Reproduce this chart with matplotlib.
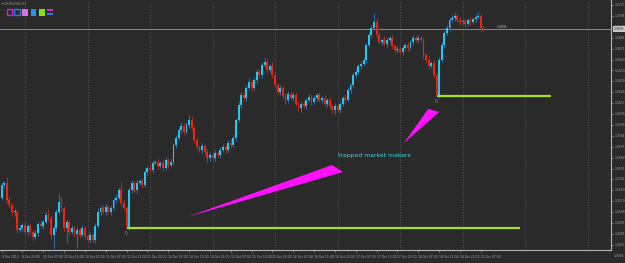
import numpy as np
import matplotlib
matplotlib.use("Agg")
import matplotlib.pyplot as plt
from matplotlib.patches import Polygon, Rectangle
import matplotlib.transforms as mtransforms

# ---------------- data (prices in pips: price = pips / 10000) ----------------
first_open_pips = 13522
close_pips = [
    13535, 13537, 13520, 13515, 13508, 13508, 13490, 13492, 13495, 13488,
    13494, 13488, 13483, 13487, 13496, 13494, 13498, 13505, 13502, 13485,
    13492, 13508, 13518, 13512, 13492, 13498, 13488, 13492, 13486, 13490,
    13485, 13492, 13484, 13480, 13485, 13480, 13494, 13508, 13512, 13508,
    13513, 13508, 13512, 13520, 13522, 13530, 13517, 13512, 13493, 13530,
    13537, 13530, 13537, 13539, 13535, 13548, 13552, 13550, 13557, 13558,
    13554, 13557, 13552, 13560, 13555, 13558, 13575, 13582, 13590, 13594,
    13588, 13595, 13600, 13592, 13580, 13573, 13570, 13574, 13568, 13562,
    13565, 13562, 13567, 13565, 13570, 13573, 13570, 13577, 13575, 13582,
    13600, 13615, 13625, 13622, 13632, 13638, 13632, 13640, 13648, 13645,
    13655, 13658, 13650, 13654, 13645, 13635, 13628, 13632, 13624, 13620,
    13626, 13622, 13625, 13616, 13612, 13616, 13614, 13620, 13623, 13618,
    13622, 13625, 13620, 13622, 13616, 13620, 13614, 13610, 13614, 13610,
    13616, 13622, 13620, 13630, 13635, 13645, 13648, 13654, 13656, 13660,
    13675, 13685, 13692, 13698, 13685, 13678, 13680, 13676, 13680, 13682,
    13674, 13670, 13671, 13668, 13672, 13675, 13672, 13678, 13682, 13680,
    13682, 13680, 13665, 13660, 13654, 13657, 13645, 13625, 13660, 13675,
    13687, 13692, 13700, 13702, 13704, 13700, 13698, 13699, 13696, 13700,
    13698, 13701, 13703, 13704, 13692, 13691,
]
upper_wick_pips = [
    3, 2, 6, 3, 2, 3, 2, 3, 2, 3,
    2, 3, 2, 3, 2, 4, 2, 3, 6, 2,
    3, 3, 9, 5, 2, 3, 2, 3, 2, 3,
    2, 3, 2, 2, 3, 2, 3, 4, 2, 3,
    3, 2, 3, 3, 4, 3, 8, 3, 2, 3,
    3, 2, 4, 2, 3, 3, 2, 4, 3, 2,
    3, 2, 3, 3, 2, 3, 2, 3, 3, 4,
    3, 3, 5, 3, 2, 3, 2, 3, 2, 3,
    3, 2, 3, 2, 3, 3, 2, 3, 4, 3,
    2, 3, 3, 2, 3, 4, 2, 3, 3, 2,
    3, 4, 3, 2, 4, 3, 2, 3, 2, 3,
    3, 2, 3, 2, 3, 2, 3, 2, 3, 2,
    3, 2, 3, 2, 3, 2, 3, 2, 3, 2,
    3, 2, 3, 3, 2, 3, 3, 2, 3, 3,
    2, 3, 3, 9, 4, 3, 2, 4, 3, 2,
    3, 2, 3, 2, 3, 2, 3, 2, 3, 2,
    3, 2, 3, 2, 3, 2, 3, 2, 3, 3,
    2, 3, 3, 3, 3, 2, 3, 2, 3, 2,
    3, 2, 3, 4, 2, 2,
]
lower_wick_pips = [
    2, 3, 3, 2, 3, 4, 3, 2, 3, 2,
    3, 2, 3, 2, 3, 2, 3, 2, 3, 4,
    13, 3, 2, 3, 3, 15, 3, 2, 3, 14,
    3, 2, 3, 2, 3, 2, 3, 2, 3, 2,
    3, 2, 3, 2, 3, 2, 3, 2, 1, 3,
    3, 2, 3, 2, 3, 2, 3, 2, 3, 2,
    3, 2, 3, 2, 3, 2, 3, 3, 2, 3,
    3, 2, 3, 2, 3, 3, 2, 3, 2, 4,
    3, 2, 3, 2, 3, 2, 3, 2, 3, 2,
    3, 2, 3, 2, 3, 2, 3, 2, 3, 2,
    3, 2, 3, 2, 3, 3, 2, 3, 2, 4,
    3, 2, 3, 2, 3, 4, 2, 3, 2, 3,
    2, 3, 2, 3, 2, 3, 2, 3, 4, 2,
    3, 2, 3, 2, 3, 2, 3, 2, 3, 2,
    3, 2, 3, 2, 3, 2, 3, 2, 3, 2,
    3, 2, 3, 2, 3, 2, 3, 2, 3, 2,
    3, 2, 3, 2, 3, 2, 3, 1, 3, 2,
    3, 2, 3, 2, 3, 2, 3, 2, 3, 2,
    3, 2, 3, 2, 3, 2,
]

date_label_bars = list(range(0, 185, 8))
date_labels = [
    "9 Oct 2013", "9 Oct 23:00", "10 Oct 07:00", "10 Oct 15:00", "10 Oct 23:00",
    "11 Oct 07:00", "11 Oct 15:00", "11 Oct 23:00", "14 Oct 07:00", "14 Oct 15:00",
    "14 Oct 23:00", "15 Oct 07:00", "15 Oct 15:00", "15 Oct 23:00", "16 Oct 07:00",
    "16 Oct 15:00", "16 Oct 23:00", "17 Oct 07:00", "17 Oct 15:00", "17 Oct 23:00",
    "18 Oct 07:00", "18 Oct 15:00", "18 Oct 23:00", "21 Oct 07:00",
]
day_start_bars = [9, 33, 57, 81, 105, 129, 153, 177, 201, 225]

price_ticks = [1.3715, 1.3704, 1.3693, 1.3682, 1.3671, 1.3660, 1.3650,
               1.3639, 1.3628, 1.3617, 1.3606, 1.3595, 1.3584, 1.3573,
               1.3562, 1.3551, 1.3541, 1.3530, 1.3519, 1.3508, 1.3497,
               1.3486, 1.3475]
last_price_tick = 1.3464

# support lines: anchored at the low of a bar, extended to a later bar
line_anchor_bars = [48, 167]
line_end_bars = [199, 211]

# magenta arrow-triangles (bar, price)
tri1_bars = [71.2, 126.9, 131.1]
tri1_prices = [1.3503, 1.3555, 1.3548]
tri2_bars = [154.5, 163.8, 168.0]
tri2_prices = [1.3577, 1.3611, 1.3608]

note_text = "trapped market makers"
note_bar, note_price = 129.2, 1.3564

# ---------------- derived OHLC ----------------
closes = np.array(close_pips) / 10000.0
opens = np.r_[first_open_pips, close_pips[:-1]] / 10000.0
highs = np.maximum(opens, closes) + np.array(upper_wick_pips) / 10000.0
lows = np.minimum(opens, closes) - np.array(lower_wick_pips) / 10000.0
x = np.arange(len(closes))
bull = closes >= opens

axis_col = "#a8a8a8"
FS_AX = 2.2

# ---------------- figure ----------------
W, H = 625, 263
bg = "#2a2a2a"
fig = plt.figure(figsize=(W / 100, H / 100), dpi=100)
fig.patch.set_facecolor(bg)
ax = fig.add_axes([0, (H - 250) / H, 611 / W, 250 / H])
ax.set_facecolor(bg)

ax.set_xlim(-0.6, 234.0)
ax.set_ylim(1.3470, 1.3720)

for b in day_start_bars:
    ax.axvline(b, color="#606060", lw=0.6, ls=(0, (1, 2)), zorder=0)

# current price line
ax.axhline(closes[-1], color="#8c8c8c", lw=0.7, zorder=1)

wick_cols = np.where(bull, "#2a6aa8", "#a83018")
body_cols = np.where(bull, "#22c8f2", "#f02414")
ax.vlines(x, lows, highs, colors=wick_cols, lw=0.8, zorder=2)
heights = np.maximum(np.abs(closes - opens), 0.00008)
ax.bar(x, heights, bottom=np.minimum(opens, closes), width=0.72,
       color=body_cols, linewidth=0, zorder=3)

# support lines + "0" markers
for ab, eb in zip(line_anchor_bars, line_end_bars):
    lv = lows[ab]
    ax.plot([ab, eb], [lv, lv], color="#a6e21c", lw=1.6, zorder=4,
            solid_capstyle="butt")
    ax.text(ab, lv - 0.0003, "0", color="#2aa8a8", fontsize=3.4,
            ha="center", va="top", zorder=5)

# magenta triangles
ax.add_patch(Polygon(list(zip(tri1_bars, tri1_prices)), closed=True,
                     facecolor="#ff10ff", edgecolor="none", zorder=5))
ax.add_patch(Polygon(list(zip(tri2_bars, tri2_prices)), closed=True,
                     facecolor="#ff10ff", edgecolor="none", zorder=5))
ax.text(note_bar, note_price, note_text, color="#38d8e0", fontsize=4.4,
        ha="left", va="center", zorder=6)

# small bid text near last bar
ax.text(x[-1] + 5, closes[-1] + 0.0002, f"{closes[-1]:.4f}", color="#c8c8c8",
        fontsize=2.2, ha="left", va="center")

# axes styling
for s in ["left", "top"]:
    ax.spines[s].set_visible(False)
for s in ["bottom", "right"]:
    ax.spines[s].set_color("#b4b4b4")
    ax.spines[s].set_linewidth(0.8)

ax.yaxis.tick_right()
ax.set_yticks(price_ticks)
ax.set_yticklabels([f"{p:.4f}" for p in price_ticks])
ax.tick_params(axis="y", colors=axis_col, labelsize=FS_AX, length=1.5, width=0.5, pad=0.8)
ax.set_xticks(date_label_bars)
ax.set_xticklabels(date_labels, ha="left")
ax.tick_params(axis="x", colors=axis_col, labelsize=FS_AX, length=1.5, width=0.5, pad=1.8)

trans = mtransforms.blended_transform_factory(ax.transAxes, ax.transData)
ax.text(1.0 + 2.3 / 611, last_price_tick, f"{last_price_tick:.4f}", transform=trans,
        color=axis_col, fontsize=FS_AX, ha="left", va="center", clip_on=False)
ax.text(1.0 + 2.3 / 611, closes[-1], f"{closes[-1]:.4f}", transform=trans,
        color="#202020", fontsize=FS_AX, ha="left", va="center", clip_on=False,
        bbox=dict(boxstyle="square,pad=0.2", facecolor="#c8c8c8", edgecolor="none"),
        zorder=10)

# title and indicator legend at top-left
fig.text(2 / W, 1 - 4 / H, "\u25be EURUSD,H1", color="#9a9a9a", fontsize=2.6,
         ha="left", va="center")

def px_rect(x0, y0, x1, y1, **kw):
    r = Rectangle((x0 / W, 1 - y1 / H), (x1 - x0) / W, (y1 - y0) / H,
                  transform=fig.transFigure, **kw)
    fig.add_artist(r)

px_rect(6.5, 9.5, 12, 15, facecolor="none", edgecolor="#d020d0", lw=1.0)
px_rect(14.5, 9.5, 20, 15, facecolor="none", edgecolor="#2a80e0", lw=1.0)
px_rect(22, 9, 28, 15.5, facecolor="#e070e0", edgecolor="none")
px_rect(30.5, 9, 36, 15.5, facecolor="#2a92f2", edgecolor="none")
px_rect(39, 9, 44.5, 15.5, facecolor="#84e012", edgecolor="none")
px_rect(47, 9, 53, 11, facecolor="#e020e0", edgecolor="none")
px_rect(47, 13, 53, 15, facecolor="#2a80e0", edgecolor="none")

fig.savefig("out.png", dpi=100, facecolor=bg)
